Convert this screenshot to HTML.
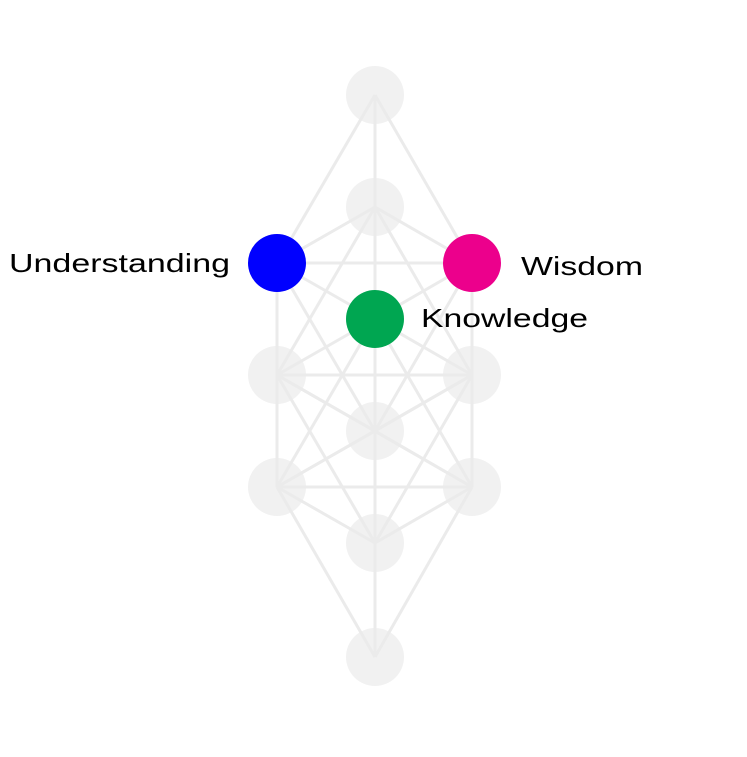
<!DOCTYPE html>
<html><head><style>body{margin:0;background:#fff}</style></head><body>
<svg width="747" height="752" viewBox="0 0 747 752" xmlns="http://www.w3.org/2000/svg">
<g fill="#f1f1f1">
<circle cx="375" cy="95" r="29"/><circle cx="375" cy="207" r="29"/>
<circle cx="277" cy="375" r="29"/><circle cx="472" cy="375" r="29"/>
<circle cx="375" cy="431" r="29"/><circle cx="277" cy="487" r="29"/>
<circle cx="472" cy="487" r="29"/><circle cx="375" cy="543" r="29"/>
<circle cx="375" cy="657" r="29"/>
</g>
<g stroke="#ebebeb" stroke-width="3" fill="none">
<line x1="375" y1="95" x2="375" y2="657"/>
<line x1="375" y1="95" x2="277" y2="263"/><line x1="375" y1="95" x2="472" y2="263"/>
<line x1="375" y1="207" x2="277" y2="263"/><line x1="375" y1="207" x2="472" y2="263"/>
<line x1="375" y1="207" x2="277" y2="375"/><line x1="375" y1="207" x2="472" y2="375"/>
<line x1="277" y1="263" x2="472" y2="263"/>
<line x1="277" y1="263" x2="375" y2="319"/><line x1="472" y1="263" x2="375" y2="319"/>
<line x1="277" y1="263" x2="277" y2="487"/><line x1="472" y1="263" x2="472" y2="487"/>
<line x1="277" y1="263" x2="375" y2="431"/><line x1="472" y1="263" x2="375" y2="431"/>
<line x1="375" y1="319" x2="277" y2="375"/><line x1="375" y1="319" x2="472" y2="375"/>
<line x1="375" y1="319" x2="277" y2="487"/><line x1="375" y1="319" x2="472" y2="487"/>
<line x1="277" y1="375" x2="472" y2="375"/>
<line x1="277" y1="375" x2="375" y2="431"/><line x1="472" y1="375" x2="375" y2="431"/>
<line x1="277" y1="375" x2="472" y2="487"/><line x1="472" y1="375" x2="277" y2="487"/>
<line x1="277" y1="375" x2="375" y2="543"/><line x1="472" y1="375" x2="375" y2="543"/>
<line x1="375" y1="431" x2="277" y2="487"/><line x1="375" y1="431" x2="472" y2="487"/>
<line x1="277" y1="487" x2="472" y2="487"/>
<line x1="277" y1="487" x2="375" y2="543"/><line x1="472" y1="487" x2="375" y2="543"/>
<line x1="277" y1="487" x2="375" y2="657"/><line x1="472" y1="487" x2="375" y2="657"/>
</g>
<circle cx="277" cy="263" r="29" fill="#0000ff"/>
<circle cx="472" cy="263" r="29" fill="#ec008c"/>
<circle cx="375" cy="319" r="29" fill="#00a651"/>
<g font-family="Liberation Sans, sans-serif" font-size="26" fill="#000">
<text x="9" y="272" textLength="221" lengthAdjust="spacingAndGlyphs">Understanding</text>
<text x="521" y="275" textLength="122" lengthAdjust="spacingAndGlyphs">Wisdom</text>
<text x="421" y="327" textLength="167" lengthAdjust="spacingAndGlyphs">Knowledge</text>
</g>
</svg>
</body></html>
